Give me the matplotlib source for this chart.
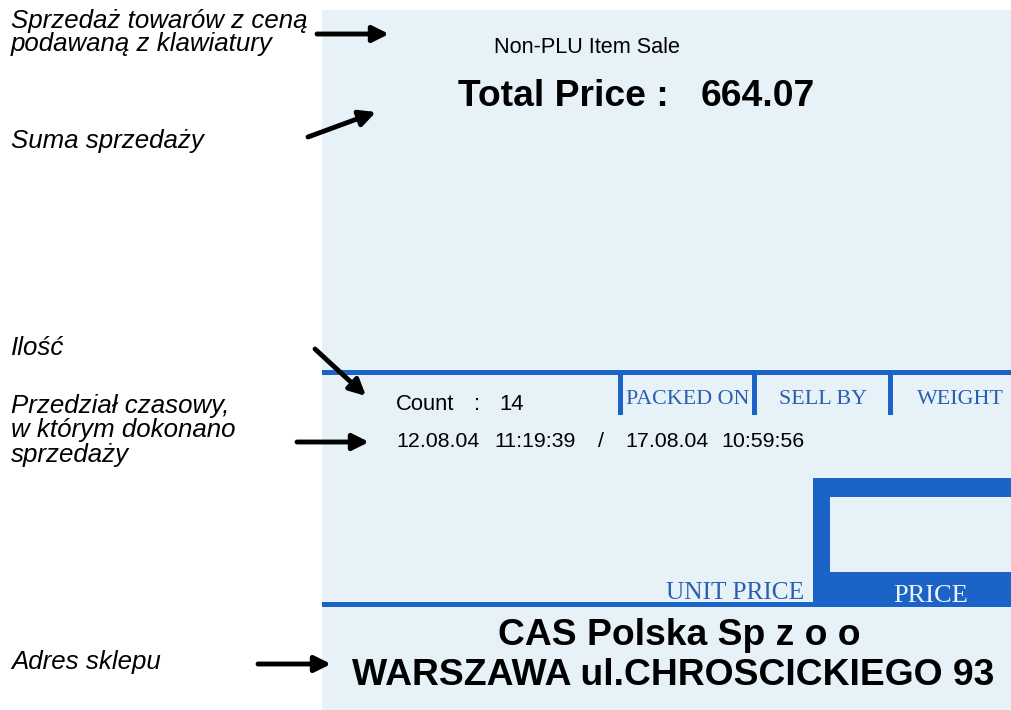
import matplotlib.pyplot as plt
from matplotlib.patches import Rectangle

# opisy po lewej (linie tekstu) i ich strzalki
notes = [["Sprzedaż towarów z ceną", "podawaną z klawiatury"],
         ["Suma sprzedaży"],
         ["Ilość"],
         ["Przedział czasowy,", "w którym dokonano", "sprzedaży"],
         ["Adres sklepu"]]
note_base = [28, 148, 355, 413, 669]
note_step = [22.5, 0, 0, 24.5, 0]
arrows = [((317, 34), (389, 34)),
          ((308, 137), (376, 112)),
          ((315, 349), (366, 396)),
          ((297, 442), (369, 442)),
          ((258, 664), (331, 664))]

# wyswietlacz wagi
title = "Non-PLU Item Sale"
total_label = "Total Price :"
total_value = "664.07"
count_label, count_value = "Count", "14"
period = ["12.08.04", "11:19:39", "/", "17.08.04", "10:59:56"]
period_x = [396, 494, 598, 625, 721]
heads = ["PACKED ON", "SELL BY", "WEIGHT"]
heads_x = [688, 823, 960]
address = ["CAS Polska Sp z o o", "WARSZAWA ul.CHROSCICKIEGO 93"]

bg = "#e6f1f8"
blue = "#1b63c6"
tblue = "#2b5fae"

fig = plt.figure(figsize=(10.11, 7.10), dpi=100)
fig.patch.set_facecolor('white')
ax = fig.add_axes([0, 0, 1, 1])
ax.set_xlim(0, 1011)
ax.set_ylim(710, 0)
ax.axis('off')

# tlo panelu i ramki
ax.add_patch(Rectangle((322, 10), 700, 700, color=bg, lw=0))
ax.add_patch(Rectangle((322, 370), 700, 5, color=blue, lw=0))
for x in [618, 752, 888]:
    ax.add_patch(Rectangle((x, 370), 5, 45, color=blue, lw=0))
ax.add_patch(Rectangle((813, 478), 210, 129, color=blue, lw=0))
ax.add_patch(Rectangle((830, 497), 200, 75, color=bg, lw=0))
ax.add_patch(Rectangle((322, 602), 700, 5, color=blue, lw=0))

# opisy
for lines, y0, dy in zip(notes, note_base, note_step):
    for i, s in enumerate(lines):
        ax.text(11, y0 + i * dy, s, fontsize=18.6, style='italic',
                family='Liberation Sans', va='baseline', ha='left')
for (x0, y0), (x1, y1) in arrows:
    ax.annotate('', xy=(x1, y1), xytext=(x0, y0),
                arrowprops=dict(arrowstyle='-|>', lw=3.5, color='black',
                                mutation_scale=24, shrinkA=0, shrinkB=0))

sans = 'Liberation Sans'
ax.text(494, 53, title, fontsize=15.6, family=sans, va='baseline')
ax.text(458, 106, total_label, fontsize=26.8, weight='bold', family=sans, va='baseline')
ax.text(701, 106, total_value, fontsize=26.8, weight='bold', family=sans, va='baseline')
ax.text(396, 410, count_label, fontsize=15.8, family=sans, va='baseline')
ax.text(474, 410, ":", fontsize=15.8, family=sans, va='baseline')
ax.text(499, 410, count_value, fontsize=15.8, family=sans, va='baseline')
for s, x in zip(period, period_x):
    ax.text(x, 447, s, fontsize=15.4, family=sans, va='baseline')

serif = 'Liberation Serif'
for s, x in zip(heads, heads_x):
    ax.text(x, 404, s, fontsize=15.8, family=serif, color=tblue,
            ha='center', va='baseline')
ax.text(735, 599, "UNIT PRICE", fontsize=18.3, family=serif, color=tblue,
        ha='center', va='baseline')
ax.text(931, 602, "PRICE", fontsize=19, family=serif, color='#eef4fb',
        ha='center', va='baseline')

ax.text(679, 645, address[0], fontsize=26.8, weight='bold', family=sans,
        ha='center', va='baseline')
ax.text(673, 685, address[1], fontsize=26.8, weight='bold', family=sans,
        ha='center', va='baseline')

fig.savefig('out.png', dpi=100, facecolor='white')
